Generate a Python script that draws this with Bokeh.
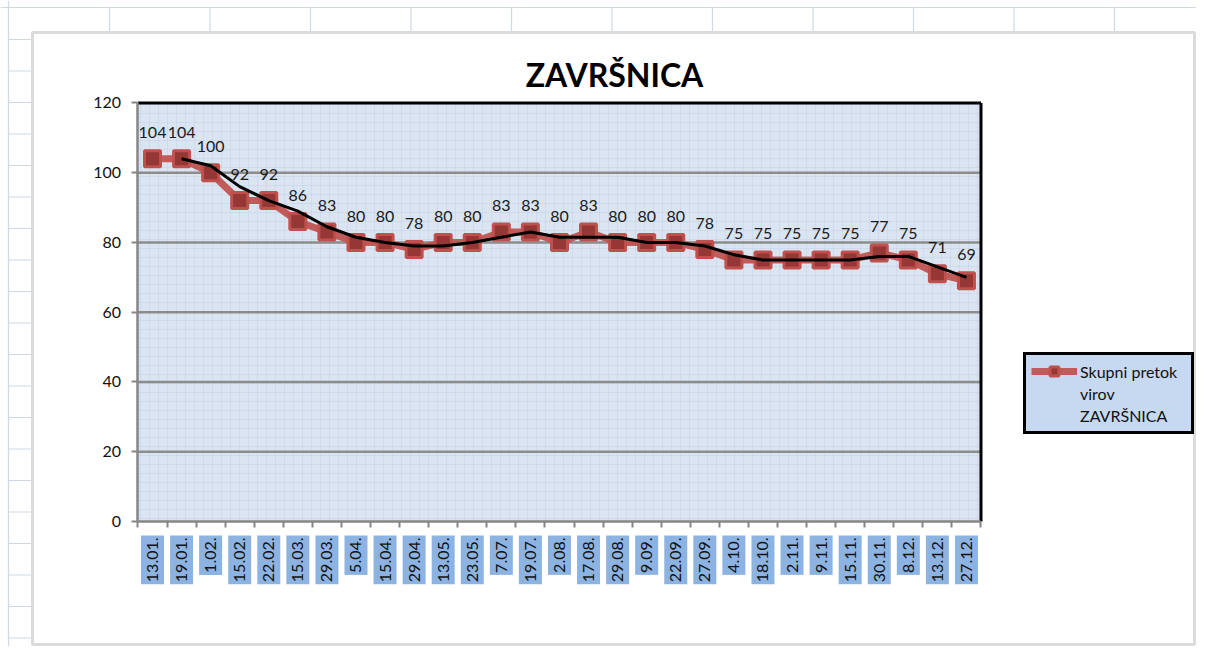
import math
from bokeh.plotting import figure
from bokeh.models import (FixedTicker, BoxAnnotation, Legend, LegendItem, LinearAxis,
                          ColumnDataSource, Range1d, LabelSet, Label)
from bokeh.core.properties import value
from bokeh.embed import file_html
from bokeh.resources import INLINE

# ---------------- data ----------------
dates = ["13.01.", "19.01.", "1.02.", "15.02.", "22.02.", "15.03.", "29.03.", "5.04.",
         "15.04.", "29.04.", "13.05.", "23.05.", "7.07.", "19.07.", "2.08.", "17.08.",
         "29.08.", "9.09.", "22.09.", "27.09.", "4.10.", "18.10.", "2.11.", "9.11.",
         "15.11.", "30.11.", "8.12.", "13.12.", "27.12."]
pretok = [104, 104, 100, 92, 92, 86, 83, 80, 80, 78, 80, 80, 83, 83, 80, 83, 80, 80,
          80, 78, 75, 75, 75, 75, 75, 77, 75, 71, 69]
# black trend line (2-point moving average), starts at the 2nd date
trend = [104, 102, 96, 92, 89, 84.5, 81.5, 80, 79, 79, 80, 81.5, 83, 81.5, 81.5, 81.5,
         80, 80, 79, 76.5, 75, 75, 75, 75, 76, 76, 73, 70]
y_ticks = [0, 20, 40, 60, 80, 100, 120]
series_lines = ["Skupni pretok", "virov", "ZAVRŠNICA"]
title_text = "ZAVRŠNICA"

# ---------------- geometry (canvas pixels -> data) ----------------
W, H = 1196, 646
N = len(dates)
PX0, DX = 152.0, 29.07     # pixel of first category, pixels per category
PY0, DY = 521.0, 3.488     # pixel of y=0, pixels per unit

def X(px):
    return (px - PX0) / DX

def Y(py):
    return (PY0 - py) / DY

XMIN, XMAX = -0.5, N - 0.5
YMIN, YMAX = y_ticks[0], y_ticks[-1]

xs = list(range(N))
src = ColumnDataSource(dict(x=xs, y=pretok, lab=[str(v) for v in pretok]))
tsrc = ColumnDataSource(dict(x=xs[1:], y=trend))
dsrc = ColumnDataSource(dict(x=xs, lab=dates))

p = figure(width=W, height=H, output_backend="svg", toolbar_location=None,
           x_range=Range1d(X(0), X(W)), y_range=Range1d(Y(H), Y(0)),
           min_border=0, min_border_left=0, min_border_right=0, min_border_top=0,
           min_border_bottom=0, background_fill_color="white",
           border_fill_color="white", outline_line_color=None, title=None,
           x_axis_location=None, y_axis_location=None)
p.xgrid.visible = False
p.ygrid.visible = False

# ---- spreadsheet cell lines around the chart ----
cell_col = "#d0d7e5"
cell_col_x = [109, 209.5, 310, 410.5, 511, 611.5, 712, 812.5, 913, 1013.5, 1114]
cell_row_y = [39, 70.5, 102, 133.5, 165, 196.5, 228, 259.5, 291, 322.5, 354, 385.5,
              417, 448.5, 480, 511.5, 543, 574.5, 606, 637.5]
def hline(py, px0, px1):
    p.add_layout(BoxAnnotation(left=X(px0), right=X(px1), top=Y(py - 0.6),
                               bottom=Y(py + 0.6), fill_color=cell_col, fill_alpha=1,
                               line_color=None))
def vline(px, py0, py1):
    p.add_layout(BoxAnnotation(left=X(px - 0.6), right=X(px + 0.6), top=Y(py0),
                               bottom=Y(py1), fill_color=cell_col, fill_alpha=1,
                               line_color=None))
hline(7, 0, W)
vline(8, 0, H)
for cx in cell_col_x:
    vline(cx, 7, 30.5)
for cy in cell_row_y:
    hline(cy, 8, 30.5)

# ---- chart border ----
p.add_layout(BoxAnnotation(left=X(32), right=X(1194), top=Y(32), bottom=Y(644),
                           fill_color=None, line_color="#878787", line_width=3))

# ---- plot area ----
p.add_layout(BoxAnnotation(left=XMIN, right=XMAX, bottom=YMIN, top=YMAX,
                           fill_color="#dbe5f1", fill_alpha=1, line_color=None,
                           hatch_pattern="+", hatch_scale=9, hatch_color="#b4c8e4",
                           hatch_alpha=0.35, hatch_weight=1, level="underlay"))
gsrc = ColumnDataSource(dict(x0=[XMIN] * (len(y_ticks) - 2), x1=[XMAX] * (len(y_ticks) - 2),
                             y=y_ticks[1:-1]))
p.segment(x0="x0", y0="y", x1="x1", y1="y", source=gsrc, line_color="#8c8c8c",
          line_width=2.5)
p.segment(x0=[XMIN, XMAX], y0=[YMAX, YMIN], x1=[XMAX, XMAX], y1=[YMAX, YMAX],
          line_color="black", line_width=3)

# ---- axes (drawn at fixed positions inside the canvas) ----
axis_gray = "#868686"
yaxis = LinearAxis(fixed_location=XMIN, bounds=(YMIN, YMAX),
                   ticker=FixedTicker(ticks=y_ticks))
yaxis.minor_tick_line_color = None
yaxis.major_tick_out = 6
yaxis.major_tick_in = 0
yaxis.major_tick_line_color = axis_gray
yaxis.major_tick_line_width = 2
yaxis.major_label_standoff = 11
yaxis.axis_line_color = axis_gray
yaxis.axis_line_width = 2.5
yaxis.major_label_text_font = "Lato"
yaxis.major_label_text_font_size = "16px"
yaxis.major_label_text_color = "#111111"
p.add_layout(yaxis, "left")

xaxis = LinearAxis(fixed_location=YMIN, bounds=(XMIN, XMAX),
                   ticker=FixedTicker(ticks=xs, minor_ticks=[i - 0.5 for i in range(N + 1)]))
xaxis.major_label_overrides = {i: d for i, d in enumerate(dates)}
xaxis.major_label_text_color = None
xaxis.major_tick_line_color = None
xaxis.major_tick_out = 0
xaxis.major_tick_in = 0
xaxis.minor_tick_out = 6
xaxis.minor_tick_in = 0
xaxis.minor_tick_line_color = axis_gray
xaxis.minor_tick_line_width = 2
xaxis.axis_line_color = axis_gray
xaxis.axis_line_width = 2.5
p.add_layout(xaxis, "below")

# category labels in blue boxes
r_dates = p.text(x="x", y=Y(535), text="lab", source=dsrc, angle=math.pi / 2,
                 text_align="right", text_baseline="middle", text_font=value("Lato"),
                 text_font_size=value("16px"), text_color="#111111",
                 background_fill_color="#8db3e2", padding=2)
for pad in (dict(left=2, right=2, top=6, bottom=6), (6, 2, 6, 2)):
    try:
        r_dates.glyph.padding = pad
        break
    except Exception:
        continue

# ---- data ----
r_line = p.line("x", "y", source=src, line_color="#c0504d", line_width=7, line_alpha=0.92)
r_sc = p.scatter("x", "y", source=src, marker="square", size=16, fill_color="#953735",
                 line_color="#c0504d", line_width=3)
p.line("x", "y", source=tsrc, line_color="black", line_width=3)

p.add_layout(LabelSet(x="x", y="y", text="lab", source=src, y_offset=26,
                      text_font=value("Lato"), text_font_size=value("16px"),
                      text_color="#1a1a1a", text_align="center", text_baseline="middle"))

# ---- title ----
p.add_layout(Label(x=X(614), y=Y(74), text=title_text, text_font="Lato",
                   text_font_size="32px", text_font_style="bold", text_color="black",
                   text_align="center", text_baseline="middle"))

# ---- legend (name wrapped on three lines, sample beside the first) ----
r_blank = p.line(x=[], y=[], line_alpha=0)
items = [LegendItem(label=value(series_lines[0]), renderers=[r_line, r_sc])]
items += [LegendItem(label=value(t), renderers=[r_blank]) for t in series_lines[1:]]
legend = Legend(items=items, location=(1023, H - 434), border_line_color="black",
                border_line_width=3, border_line_alpha=1,
                background_fill_color="#c6d9f1", background_fill_alpha=1,
                label_text_font="Lato", label_text_font_size="16px",
                label_text_color="#111111", glyph_width=46, glyph_height=22,
                label_height=22, label_width=106, padding=5, label_standoff=3,
                margin=0, spacing=0)
p.add_layout(legend)

open("out.html", "w").write(file_html(p, INLINE))
